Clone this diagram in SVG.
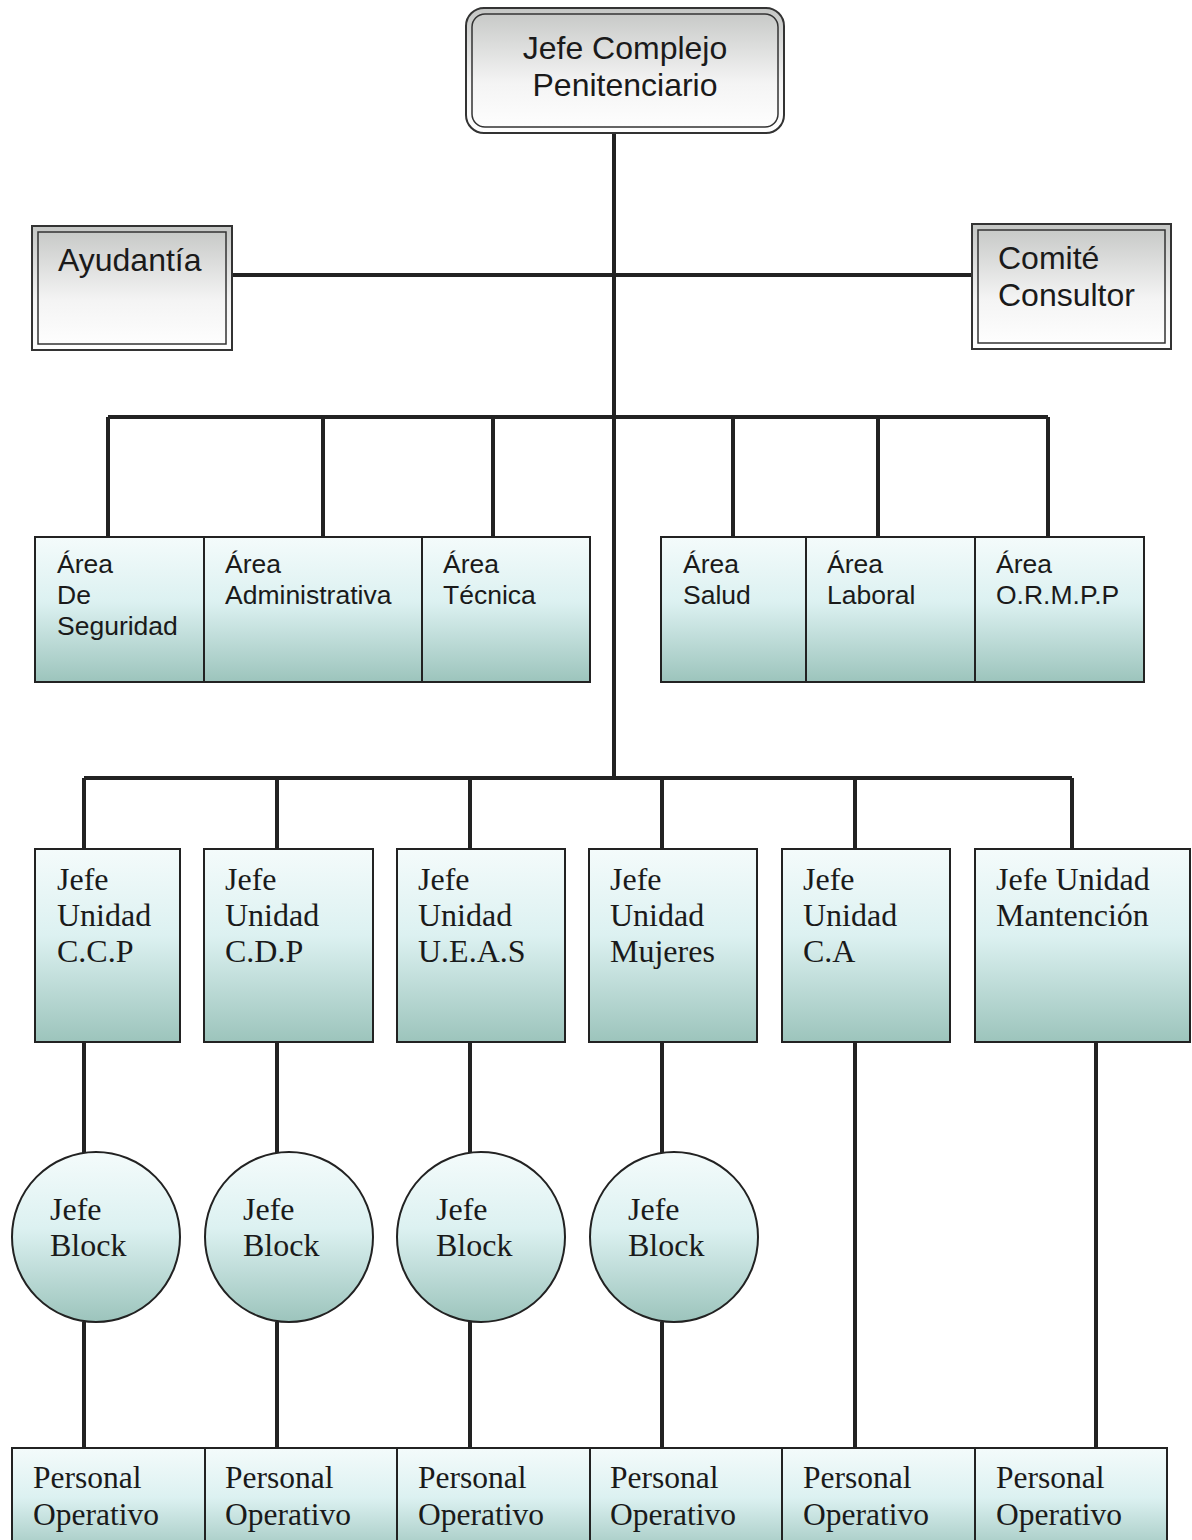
<svg xmlns="http://www.w3.org/2000/svg" width="1192" height="1540" viewBox="0 0 1192 1540">
<defs>
<linearGradient id="teal" x1="0" y1="0" x2="0" y2="1">
<stop offset="0" stop-color="#f4fbfb"/>
<stop offset="0.45" stop-color="#dcf1f1"/>
<stop offset="1" stop-color="#9cc4bc"/>
</linearGradient>
<linearGradient id="gray" x1="0" y1="0" x2="0" y2="1">
<stop offset="0" stop-color="#c4c6c4"/>
<stop offset="0.6" stop-color="#f4f4f4"/>
<stop offset="1" stop-color="#ffffff"/>
</linearGradient>
<style>
.c{fill:none;stroke:#222;stroke-width:4}
.box{fill:url(#teal);stroke:#222;stroke-width:2}
.dbl{fill:url(#gray);stroke:#333;stroke-width:2}
.sans{font-family:"Liberation Sans",Arial,sans-serif;fill:#1a1a1a}
.serif{font-family:"Liberation Serif","Times New Roman",serif;fill:#1a1a1a;font-size:32px}
.p{font-size:31.5px}
.a{font-size:26.5px}
.b{font-size:32px}
</style>
</defs>
<rect width="1192" height="1540" fill="#fff"/>
<g id="connectors">
<path class="c" d="M614 133V778"/>
<path class="c" d="M232 275H972"/>
<path class="c" d="M108 417H1048M108 417V537M323 417V537M493 417V537M733 417V537M878 417V537M1048 417V537"/>
<path class="c" d="M84 778H1072M84 778V849M277 778V849M470 778V849M662 778V849M855 778V849M1072 778V849"/>
<path class="c" d="M84 1042V1153M277 1042V1153M470 1042V1153M662 1042V1153"/>
<path class="c" d="M84 1322V1448M277 1322V1448M470 1322V1448M662 1322V1448M855 1042V1448M1096 1042V1448"/>
</g>
<g id="jefe-complejo">
<rect x="466" y="8" width="318" height="125" rx="18" class="dbl" stroke-width="3"/>
<rect x="472" y="14" width="306" height="113" rx="13" fill="none" stroke="#333" stroke-width="1.5"/>
<text class="sans b" x="625" y="59" text-anchor="middle">Jefe Complejo</text>
<text class="sans b" x="625" y="96" text-anchor="middle">Penitenciario</text>
</g>
<g id="ayudantia">
<rect x="32" y="226" width="200" height="124" class="dbl" stroke-width="3"/>
<rect x="38" y="232" width="188" height="112" fill="none" stroke="#333" stroke-width="1.5"/>
<text class="sans b" x="58" y="271">Ayudantía</text>
</g>
<g id="comite">
<rect x="972" y="224" width="199" height="125" class="dbl" stroke-width="3"/>
<rect x="978" y="230" width="187" height="113" fill="none" stroke="#333" stroke-width="1.5"/>
<text class="sans b" x="998" y="269">Comité</text>
<text class="sans b" x="998" y="306">Consultor</text>
</g>
<g id="area-seguridad">
<rect x="35" y="537" width="169" height="145" class="box"/>
<text class="sans a" x="57" y="573">Área</text>
<text class="sans a" x="57" y="604">De</text>
<text class="sans a" x="57" y="635">Seguridad</text>
</g>
<g id="area-administrativa">
<rect x="204" y="537" width="218" height="145" class="box"/>
<text class="sans a" x="225" y="573">Área</text>
<text class="sans a" x="225" y="604">Administrativa</text>
</g>
<g id="area-tecnica">
<rect x="422" y="537" width="168" height="145" class="box"/>
<text class="sans a" x="443" y="573">Área</text>
<text class="sans a" x="443" y="604">Técnica</text>
</g>
<g id="area-salud">
<rect x="661" y="537" width="145" height="145" class="box"/>
<text class="sans a" x="683" y="573">Área</text>
<text class="sans a" x="683" y="604">Salud</text>
</g>
<g id="area-laboral">
<rect x="806" y="537" width="169" height="145" class="box"/>
<text class="sans a" x="827" y="573">Área</text>
<text class="sans a" x="827" y="604">Laboral</text>
</g>
<g id="area-ormpp">
<rect x="975" y="537" width="169" height="145" class="box"/>
<text class="sans a" x="996" y="573">Área</text>
<text class="sans a" x="996" y="604">O.R.M.P.P</text>
</g>
<g id="ju-ccp">
<rect x="35" y="849" width="145" height="193" class="box"/>
<text class="serif" x="57" y="890">Jefe</text>
<text class="serif" x="57" y="926">Unidad</text>
<text class="serif" x="57" y="962">C.C.P</text>
</g>
<g id="ju-cdp">
<rect x="204" y="849" width="169" height="193" class="box"/>
<text class="serif" x="225" y="890">Jefe</text>
<text class="serif" x="225" y="926">Unidad</text>
<text class="serif" x="225" y="962">C.D.P</text>
</g>
<g id="ju-ueas">
<rect x="397" y="849" width="168" height="193" class="box"/>
<text class="serif" x="418" y="890">Jefe</text>
<text class="serif" x="418" y="926">Unidad</text>
<text class="serif" x="418" y="962">U.E.A.S</text>
</g>
<g id="ju-mujeres">
<rect x="589" y="849" width="168" height="193" class="box"/>
<text class="serif" x="610" y="890">Jefe</text>
<text class="serif" x="610" y="926">Unidad</text>
<text class="serif" x="610" y="962">Mujeres</text>
</g>
<g id="ju-ca">
<rect x="782" y="849" width="168" height="193" class="box"/>
<text class="serif" x="803" y="890">Jefe</text>
<text class="serif" x="803" y="926">Unidad</text>
<text class="serif" x="803" y="962">C.A</text>
</g>
<g id="ju-mantencion">
<rect x="975" y="849" width="215" height="193" class="box"/>
<text class="serif" x="996" y="890">Jefe Unidad</text>
<text class="serif" x="996" y="926">Mantención</text>
</g>
<g id="jb-1">
<ellipse cx="96" cy="1237" rx="84" ry="85" class="box"/>
<text class="serif" x="50" y="1220">Jefe</text>
<text class="serif" x="50" y="1256">Block</text>
</g>
<g id="jb-2">
<ellipse cx="289" cy="1237" rx="84" ry="85" class="box"/>
<text class="serif" x="243" y="1220">Jefe</text>
<text class="serif" x="243" y="1256">Block</text>
</g>
<g id="jb-3">
<ellipse cx="481" cy="1237" rx="84" ry="85" class="box"/>
<text class="serif" x="436" y="1220">Jefe</text>
<text class="serif" x="436" y="1256">Block</text>
</g>
<g id="jb-4">
<ellipse cx="674" cy="1237" rx="84" ry="85" class="box"/>
<text class="serif" x="628" y="1220">Jefe</text>
<text class="serif" x="628" y="1256">Block</text>
</g>
<g id="po-1">
<rect x="12" y="1448" width="193" height="110" class="box"/>
<text class="serif p" x="33" y="1488">Personal</text>
<text class="serif p" x="33" y="1525">Operativo</text>
</g>
<g id="po-2">
<rect x="205" y="1448" width="192" height="110" class="box"/>
<text class="serif p" x="225" y="1488">Personal</text>
<text class="serif p" x="225" y="1525">Operativo</text>
</g>
<g id="po-3">
<rect x="397" y="1448" width="193" height="110" class="box"/>
<text class="serif p" x="418" y="1488">Personal</text>
<text class="serif p" x="418" y="1525">Operativo</text>
</g>
<g id="po-4">
<rect x="590" y="1448" width="192" height="110" class="box"/>
<text class="serif p" x="610" y="1488">Personal</text>
<text class="serif p" x="610" y="1525">Operativo</text>
</g>
<g id="po-5">
<rect x="782" y="1448" width="193" height="110" class="box"/>
<text class="serif p" x="803" y="1488">Personal</text>
<text class="serif p" x="803" y="1525">Operativo</text>
</g>
<g id="po-6">
<rect x="975" y="1448" width="192" height="110" class="box"/>
<text class="serif p" x="996" y="1488">Personal</text>
<text class="serif p" x="996" y="1525">Operativo</text>
</g>
</svg>
